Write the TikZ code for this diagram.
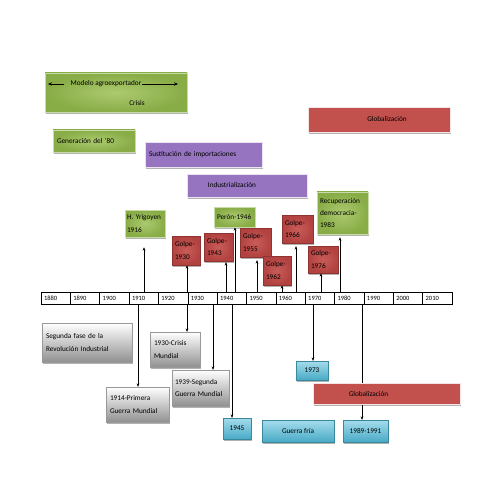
\documentclass[tikz,border=0pt]{standalone}
\usepackage{fontspec}
\setmainfont{Carlito}
\usetikzlibrary{shadows,arrows.meta,backgrounds}
\newcommand\fs{\fontsize{7.3}{12.5}\selectfont}
\newcommand\fst{\fontsize{6.5}{7}\selectfont}
\definecolor{gout}{RGB}{136,172,70}
\definecolor{gin}{RGB}{172,202,112}
\definecolor{gdraw}{RGB}{200,220,170}
\definecolor{rout}{RGB}{178,66,64}
\definecolor{rin}{RGB}{200,92,88}
\definecolor{rflat}{RGB}{194,80,77}
\definecolor{pur}{RGB}{150,116,192}
\definecolor{btop}{RGB}{165,220,236}
\definecolor{bbot}{RGB}{72,170,198}
\definecolor{gbot}{RGB}{145,145,145}
\tikzset{
  bx/.style={rectangle, inner xsep=4bp, inner ysep=0pt, font=\fs, align=left,
    drop shadow={shadow xshift=1.3bp, shadow yshift=-1.6bp, opacity=0.3, fill=black}},
  gbox/.style={bx, inner color=gin, outer color=gout, draw=gdraw, line width=0.5bp},
  rbox/.style={bx, inner color=rin, outer color=rout, draw=rout!80!black, line width=0.3bp},
  rflatbox/.style={bx, fill=rflat, draw=white!85!rflat, line width=0.8bp},
  pbox/.style={bx, fill=pur, draw=white!80!pur, line width=0.8bp},
  bbox/.style={bx, top color=btop, bottom color=bbot, draw=bbot!80!black, line width=0.3bp},
  gybox/.style={bx, top color=white, bottom color=gbot, draw=gray!80, line width=0.3bp},
  cell/.style={rectangle, draw=black, line width=0.5bp, minimum width=29.36bp, minimum height=12bp,
    inner xsep=3bp, font=\fst, text width=23.36bp, align=left},
  arr/.style={-{Stealth[length=3.4bp,width=2.8bp]}, line width=0.6bp, black},
  marr/.style={-{Stealth[length=4bp,width=3.4bp]}, line width=0.6bp, black},
  lbl/.style={inner sep=0pt, font=\fs}
}
\begin{document}
\begin{tikzpicture}[x=1bp,y=-1bp]
\useasboundingbox (0,0) rectangle (495,495);
% timeline
\foreach \yr [count=\k] in {1880,1890,1900,1910,1920,1930,1940,1950,1960,1970,1980,1990,2000,2010}{
  \pgfmathsetmacro\cx{41+29.36*(\k-0.5)}
  \node[cell] (tl\k) at (\cx,298) {\yr};
}
% top boxes
\node[gbox, minimum width=142bp, minimum height=39bp] (modelo) at (116,92.5) {};
\node[lbl] (mtext) at (106,84) {Modelo agroexportador};
\node[lbl] (crisis) at (137,103) {Crisis};
\coordinate (mleft) at (48,84);
\coordinate (mright) at (178,84);
\draw[marr] ([xshift=-6bp]mtext.west) -- (mleft);
\draw[marr] (mtext.east) -- (mright);
\node[gbox, minimum width=82bp, minimum height=22bp, text width=74bp] (gen) at (94,141) {Generación del `80\\[2bp]};
\node[pbox, minimum width=117bp, minimum height=25bp, text width=109bp] (sust) at (203.5,154.5) {Sustitución de importaciones};
\node[rflatbox, minimum width=142bp, minimum height=25bp] (globt) at (379,119.5) {\hspace*{16bp}Globalización};
\node[pbox, minimum width=120bp, minimum height=23bp] (ind) at (247,185.5) {\hspace*{-30bp}Industrialización};
% event boxes above timeline
\node[gbox, minimum width=40bp, minimum height=27bp, inner xsep=2bp, text width=36bp] (yri) at (145,223.5) {H. Yrigoyen\\1916};
\node[rbox, minimum width=28bp, minimum height=29bp, inner xsep=3bp, text width=22bp] (g30) at (186,250.5) {Golpe-\\1930};
\node[rbox, minimum width=29bp, minimum height=28bp, inner xsep=3bp, text width=23bp] (g43) at (218.5,247) {Golpe-\\1943};
\node[gbox, minimum width=41bp, minimum height=20bp, inner xsep=3bp, text width=35bp] (peron) at (234.5,217) {Perón-1946};
\node[rbox, minimum width=31bp, minimum height=29bp, inner xsep=3bp, text width=25bp] (g55) at (255.5,242.5) {Golpe-\\1955};
\node[rbox, minimum width=28bp, minimum height=29bp, inner xsep=3bp, text width=22bp] (g62) at (277,270.5) {Golpe-\\1962};
\node[rbox, minimum width=31bp, minimum height=28bp, inner xsep=3bp, text width=25bp] (g66) at (297.5,229) {Golpe-\\1966};
\node[rbox, minimum width=30bp, minimum height=27bp, inner xsep=3bp, text width=24bp] (g76) at (323,259.5) {Golpe-\\1976};
\node[gbox, minimum width=51bp, minimum height=42bp, inner xsep=3bp, text width=45bp] (rec) at (342.5,213) {Recuperación\\democracia-\\1983};
% boxes below timeline
\node[gybox, minimum width=90bp, minimum height=39bp, text width=82bp] (seg) at (87,342.5) {Segunda fase de la\\Revolución Industrial\\[3bp]};
\node[gybox, minimum width=63bp, minimum height=35bp, text width=55bp] (pm) at (137.5,404.5) {1914-Primera\\Guerra Mundial};
\node[gybox, minimum width=50bp, minimum height=35bp, text width=42bp] (cm) at (175,349.5) {1930-Crisis\\Mundial};
\node[gybox, minimum width=57bp, minimum height=36bp, inner xsep=3bp, text width=51bp] (sg) at (200.5,388) {1939-Segunda\\Guerra Mundial};
\node[bbox, minimum width=28bp, minimum height=21bp, align=center, inner xsep=0pt] (y45) at (237,428.5) {1945};
\node[bbox, minimum width=32bp, minimum height=19bp, align=center, inner xsep=0pt] (y73) at (312,370.5) {1973};
\node[rflatbox, minimum width=147bp, minimum height=21bp, align=center] (globb) at (386.5,393.5) {\hspace*{-36bp}Globalización};
\node[bbox, minimum width=72bp, minimum height=22bp, align=center, inner xsep=0pt] (gf) at (298,431) {Guerra fría};
\node[bbox, minimum width=45bp, minimum height=22bp, align=center, inner xsep=0pt] (y89) at (365.5,431) {1989-1991};
% connector anchors on the timeline
\coordinate (u16) at (144,292);
\coordinate (u30) at (187,292);
\coordinate (u43) at (226,292);
\coordinate (u46) at (235,292);
\coordinate (u55) at (257,292);
\coordinate (u62) at (282,292);
\coordinate (u66) at (296,292);
\coordinate (u76) at (321,292);
\coordinate (u83) at (340,292);
\coordinate (d14) at (138,304);
\coordinate (d30) at (187,304);
\coordinate (d39) at (213,304);
\coordinate (d45) at (232,304);
\coordinate (d73) at (313,304);
\coordinate (d89) at (362,304);
\begin{pgfonlayer}{background}
\fill[white] (0,0) rectangle (495,495);
\draw[arr, shorten >=10bp] (u16) -- (u16 |- yri.south);
\draw[arr] (u30) -- (u30 |- g30.south);
\draw[arr, shorten >=1bp] (u43) -- (u43 |- g43.south);
\draw[arr] (u46) -- (u46 |- peron.south);
\draw[arr, shorten >=3bp] (u55) -- (u55 |- g55.south);
\draw[arr] (u62) -- (u62 |- g62.south);
\draw[arr, shorten >=3bp] (u66) -- (u66 |- g66.south);
\draw[arr] (u76) -- (u76 |- g76.south);
\draw[arr, shorten >=3bp] (u83) -- (u83 |- rec.south);
\draw[arr] (d14) -- (d14 |- pm.north);
\draw[arr] (d30) -- (d30 |- cm.north);
\draw[arr] (d39) -- (d39 |- sg.north);
\draw[arr] (d45) -- (d45 |- y45.north);
\draw[arr] (d73) -- (d73 |- y73.north);
\draw[arr] (d89) -- (d89 |- y89.north);
\end{pgfonlayer}
\end{tikzpicture}
\end{document}
